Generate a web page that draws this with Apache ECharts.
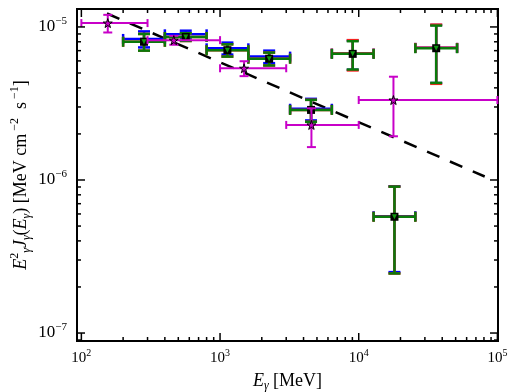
<!DOCTYPE html>
<html>
<head>
<meta charset="UTF-8">
<title>spectrum</title>
<script src="https://cdn.jsdelivr.net/npm/echarts@6/dist/echarts.min.js"></script>
<style>
  html, body { margin: 0; padding: 0; background: #fff; }
  #main { width: 510px; height: 392px; }
</style>
</head>
<body>
<div id="main"></div>
<script>
// axis range
var xMin = 93, xMax = 1.01e5;
var yMin = 8.87e-8, yMax = 1.31e-5;

// magenta stars
var starE = [155, 464, 1490, 4560, 17800];
var starLo = [100, 300, 1000, 3000, 10000];
var starHi = [300, 1000, 3000, 10000, 100000];
var starFlux = [1.06e-5, 8.2e-6, 5.37e-6, 2.29e-6, 3.33e-6];
var starErr = [1.4e-6, 5.5e-7, 6e-7, 6.5e-7, 1.4e-6];

// binned points (blue / red / green)
var binE = [283, 566, 1130, 2260, 4530, 9050, 18100, 36200];
var binLo = [200, 400, 800, 1600, 3200, 6400, 12800, 25600];
var binHi = [400, 800, 1600, 3200, 6400, 12800, 25600, 51200];
var blueFlux = [8.35e-6, 8.95e-6, 7.25e-6, 6.4e-6, 2.92e-6, 6.7e-6, 5.8e-7, 7.3e-6];
var blueErr = [1.0e-6, 5e-7, 6.5e-7, 6e-7, 4.7e-7, 1.45e-6, 3.3e-7, 3.0e-6];
var redFlux = [8.0e-6, 8.6e-6, 7.05e-6, 6.2e-6, 2.87e-6, 6.7e-6, 5.75e-7, 7.3e-6];
var redErr = [1.0e-6, 5e-7, 6.5e-7, 6e-7, 4.7e-7, 1.5e-6, 3.3e-7, 3.05e-6];
var greenFlux = [8.0e-6, 8.6e-6, 7.05e-6, 6.2e-6, 2.87e-6, 6.67e-6, 5.75e-7, 7.26e-6];
var greenErr = [1.0e-6, 5e-7, 6.5e-7, 6e-7, 4.7e-7, 1.4e-6, 3.3e-7, 2.95e-6];

// dashed power law (visible part)
var lineE = [153, 81000];
var lineFlux = [1.224e-5, 1.054e-6];

// ticks
var xTickMajor = [100, 1000, 10000, 100000];
var xTickMinor = [200, 300, 400, 500, 600, 700, 800, 900,
                  2000, 3000, 4000, 5000, 6000, 7000, 8000, 9000,
                  20000, 30000, 40000, 50000, 60000, 70000, 80000, 90000];
var yTickMajor = [1e-7, 1e-6, 1e-5];
var yTickMinor = [9e-8, 2e-7, 3e-7, 4e-7, 5e-7, 6e-7, 7e-7, 8e-7, 9e-7,
                  2e-6, 3e-6, 4e-6, 5e-6, 6e-6, 7e-6, 8e-6, 9e-6];

var FONT = 'Liberation Serif';
var STAR = 'path://M50,0 L61,35 L98,35 L68,57 L79,91 L50,70 L21,91 L32,57 L2,35 L39,35 Z';

function powLabel(v) {
  var e = Math.log10(v);
  var n = Math.round(e);
  if (Math.abs(e - n) > 1e-6) return '';
  var s = n < 0 ? '\u2212' + (-n) : '' + n;
  return '{b|10}{sup|' + s + '}';
}

function labelRich(size, supSize) {
  return {
    b: { fontFamily: FONT, fontSize: size, lineHeight: size + 6, color: '#000' },
    sup: { fontFamily: FONT, fontSize: supSize, verticalAlign: 'top', color: '#000' }
  };
}

function errorBars(xs, lo, hi, ys, err, color, width, capX, capY, z) {
  var data = xs.map(function (x, i) {
    return [x, ys[i], lo[i], hi[i], ys[i] - err[i], ys[i] + err[i]];
  });
  return {
    type: 'custom', data: data, z: z, silent: true,
    encode: { x: 0, y: 1 },
    renderItem: function (params, api) {
      var c = api.coord([api.value(0), api.value(1)]);
      var l = api.coord([api.value(2), api.value(1)]);
      var r = api.coord([api.value(3), api.value(1)]);
      var b = api.coord([api.value(0), api.value(4)]);
      var t = api.coord([api.value(0), api.value(5)]);
      var st = { stroke: color, lineWidth: width };
      return {
        type: 'group',
        children: [
          { type: 'line', shape: { x1: l[0], y1: c[1], x2: r[0], y2: c[1] }, style: st },
          { type: 'line', shape: { x1: c[0], y1: b[1], x2: c[0], y2: t[1] }, style: st },
          { type: 'line', shape: { x1: l[0], y1: c[1] - capX, x2: l[0], y2: c[1] + capX }, style: st },
          { type: 'line', shape: { x1: r[0], y1: c[1] - capX, x2: r[0], y2: c[1] + capX }, style: st },
          { type: 'line', shape: { x1: c[0] - capY, y1: b[1], x2: c[0] + capY, y2: b[1] }, style: st },
          { type: 'line', shape: { x1: c[0] - capY, y1: t[1], x2: c[0] + capY, y2: t[1] }, style: st }
        ]
      };
    }
  };
}

// ticks on all four sides, drawn through the axes' scales
function tickSeries(data, isX) {
  return {
    type: 'custom', data: data, z: 20, silent: true,
    encode: { x: 0, y: 1 },
    renderItem: function (params, api) {
      var cs = params.coordSys;
      var p = api.coord([api.value(0), api.value(1)]);
      var len = api.value(2);
      var st = { stroke: '#000', lineWidth: 1.5 };
      var kids;
      if (isX) {
        kids = [
          { type: 'line', shape: { x1: p[0], y1: cs.y + cs.height, x2: p[0], y2: cs.y + cs.height - len }, style: st },
          { type: 'line', shape: { x1: p[0], y1: cs.y, x2: p[0], y2: cs.y + len }, style: st }
        ];
      } else {
        kids = [
          { type: 'line', shape: { x1: cs.x, y1: p[1], x2: cs.x + len, y2: p[1] }, style: st },
          { type: 'line', shape: { x1: cs.x + cs.width, y1: p[1], x2: cs.x + cs.width - len, y2: p[1] }, style: st }
        ];
      }
      return { type: 'group', children: kids };
    }
  };
}

var xTicks = xTickMajor.map(function (v) { return [v, 1e-6, 8]; })
  .concat(xTickMinor.map(function (v) { return [v, 1e-6, 4]; }));
var yTicks = yTickMajor.map(function (v) { return [1000, v, 8]; })
  .concat(yTickMinor.map(function (v) { return [1000, v, 4]; }));

var chart = echarts.init(document.getElementById('main'));

chart.setOption({
  animation: false,
  grid: {
    left: 77, right: 12, top: 9, bottom: 51, show: true,
    borderColor: '#000', borderWidth: 2, containLabel: false, outerBoundsMode: 'none'
  },
  xAxis: {
    type: 'log', min: xMin, max: xMax,
    axisLine: { show: false }, axisTick: { show: false }, splitLine: { show: false },
    axisLabel: { margin: 7, formatter: powLabel, rich: labelRich(15, 10) },
    name: '{i|E}{s|\u03b3} {n|[MeV]}', nameLocation: 'middle', nameGap: 29, nameMoveOverlap: false,
    nameTextStyle: {
      fontFamily: FONT, fontSize: 18, color: '#000',
      rich: {
        i: { fontFamily: FONT, fontSize: 18, fontStyle: 'italic', lineHeight: 22, color: '#000' },
        n: { fontFamily: FONT, fontSize: 18, lineHeight: 22, color: '#000' },
        s: { fontFamily: FONT, fontSize: 12, fontStyle: 'italic', verticalAlign: 'bottom', color: '#000' }
      }
    }
  },
  yAxis: {
    type: 'log', min: yMin, max: yMax,
    axisLine: { show: false }, axisTick: { show: false }, splitLine: { show: false },
    axisLabel: { margin: 10, formatter: powLabel, rich: labelRich(17, 11) },
    name: '{i|E}{p|2}{s|\u03b3}{i|J}{s|\u03b3}{n|(}{i|E}{s|\u03b3}{n|) [MeV cm}{p| \u22122}{n|  s}{p| \u22121}{n|]}',
    nameLocation: 'middle', nameRotate: 90, nameGap: 44, nameMoveOverlap: false,
    nameTextStyle: {
      fontFamily: FONT, fontSize: 18, color: '#000',
      rich: {
        i: { fontFamily: FONT, fontSize: 18, fontStyle: 'italic', lineHeight: 24, color: '#000' },
        n: { fontFamily: FONT, fontSize: 18, lineHeight: 24, color: '#000' },
        p: { fontFamily: FONT, fontSize: 12, verticalAlign: 'top', color: '#000' },
        s: { fontFamily: FONT, fontSize: 12, fontStyle: 'italic', verticalAlign: 'bottom', color: '#000' }
      }
    }
  },
  series: [
    {
      type: 'line', z: 2, silent: true, showSymbol: false,
      data: lineE.map(function (e, i) { return [e, lineFlux[i]]; }),
      lineStyle: { color: '#000', width: 2.5, type: [13.5, 11.4] }
    },
    errorBars(binE, binLo, binHi, blueFlux, blueErr, '#0000ff', 2.5, 5, 6, 3),
    errorBars(binE, binLo, binHi, redFlux, redErr, '#ff2020', 2.5, 5, 6, 4),
    errorBars(binE, binLo, binHi, greenFlux, greenErr, '#0a7a0a', 2.5, 5, 6, 5),
    {
      type: 'scatter', z: 6, silent: true, symbol: 'rect', symbolSize: 8,
      data: binE.map(function (e, i) { return [e, greenFlux[i]]; }),
      itemStyle: { color: '#000', opacity: 1 }
    },
    {
      type: 'scatter', z: 7, silent: true, symbol: 'triangle', symbolRotate: 180, symbolSize: 5,
      data: binE.map(function (e, i) { return [e, greenFlux[i]]; }),
      itemStyle: { color: '#119911', opacity: 1 }
    },
    errorBars(starE, starLo, starHi, starFlux, starErr, '#c800c8', 2, 4, 4.5, 8),
    {
      type: 'scatter', z: 9, silent: true, symbol: STAR, symbolSize: 9,
      data: starE.map(function (e, i) { return [e, starFlux[i]]; }),
      itemStyle: { color: '#c800c8', borderColor: '#000', borderWidth: 1, opacity: 1 }
    },
    tickSeries(xTicks, true),
    tickSeries(yTicks, false)
  ]
});
</script>
</body>
</html>
